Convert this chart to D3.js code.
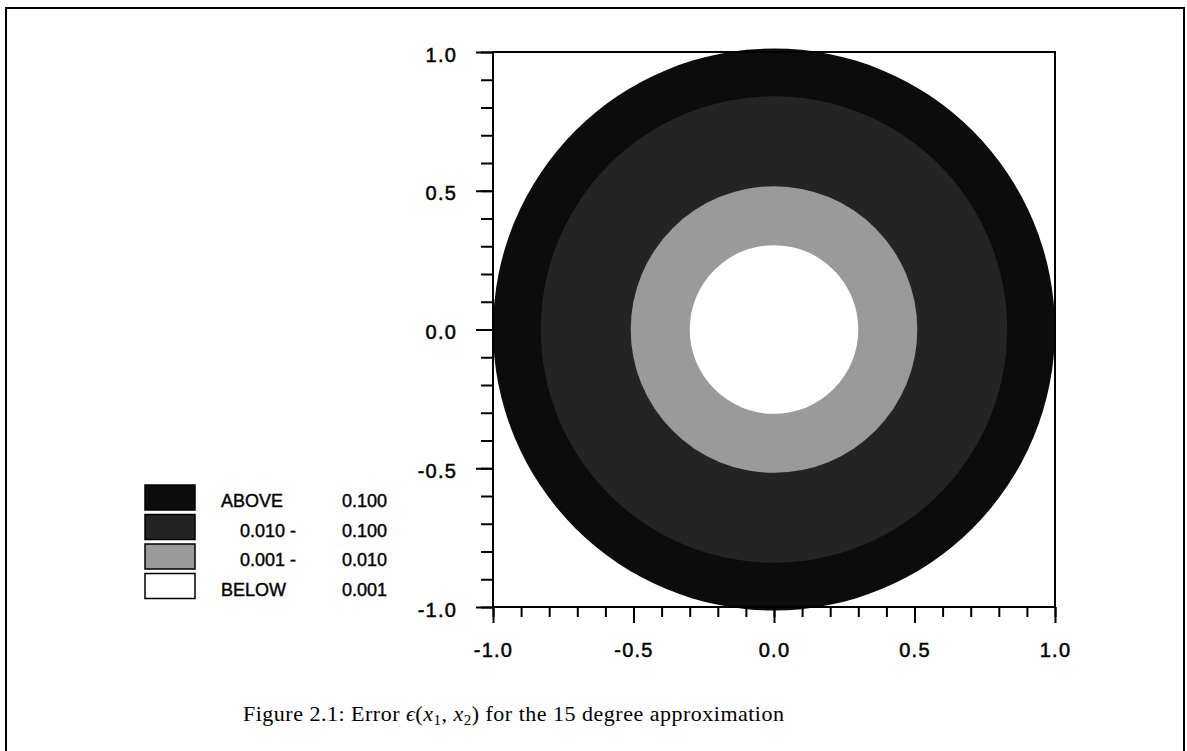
<!DOCTYPE html>
<html>
<head>
<meta charset="utf-8">
<script src="https://cdn.jsdelivr.net/npm/d3@7"></script>
<style>
  html, body { margin: 0; padding: 0; background: #fff; }
  svg { display: block; }
</style>
</head>
<body>
<svg id="chart" width="1187" height="751"></svg>
<script>
// ---------- data ----------
const levelLabels = ["ABOVE", "0.010 -", "0.001 -", "BELOW"];
const levelBounds = ["0.100", "0.100", "0.010", "0.001"];
// outer radius (in x1,x2 units) of each error band, from largest error to smallest
const bandRadius = [1.0, 0.83, 0.51, 0.30];
const bandCenter = [0.0, 0.0];
const xTickValues = [-1.0, -0.5, 0.0, 0.5, 1.0];
const yTickValues = [-1.0, -0.5, 0.0, 0.5, 1.0];
const xTickLabels = ["-1.0", "-0.5", "0.0", "0.5", "1.0"];
const yTickLabels = ["-1.0", "-0.5", "0.0", "0.5", "1.0"];
const captionParts = ["Figure 2.1: Error ", "ϵ", "(", "x", "1", ", ", "x", "2", ") for the 15 degree approximation"];

// ---------- layout ----------
const svg = d3.select("#chart");
const plot = { left: 493, right: 1055, top: 52, bottom: 607 };
const x = d3.scaleLinear().domain([-1, 1]).range([plot.left, plot.right]);
const y = d3.scaleLinear().domain([-1, 1]).range([plot.bottom, plot.top]);

// ---------- fills (halftone shades) ----------
const fills = ["#0c0c0c", "#242424", "#9a9a9a", "#fff"];

// ---------- outer frame ----------
svg.append("path")
  .attr("d", "M6,751 L6,8 L1184,8 L1184,751")
  .attr("fill", "none").attr("stroke", "#000").attr("stroke-width", 2);

// ---------- bands ----------
svg.append("g").selectAll("circle").data(bandRadius).join("circle")
  .attr("cx", x(bandCenter[0])).attr("cy", y(bandCenter[1]))
  .attr("r", d => x(d) - x(0))
  .attr("fill", (d, i) => fills[i]);

// ---------- axes ----------
const minor = d3.range(-10, 11).map(v => v / 10);
const axisG = svg.append("g").attr("stroke", "#000").attr("stroke-width", 2);
axisG.append("path")
  .attr("d", `M${plot.left},${plot.bottom} L${plot.left},${plot.top} L${plot.right},${plot.top} L${plot.right},${plot.bottom} Z`)
  .attr("fill", "none");

const xAxis = d3.axisBottom(x).tickValues(minor).tickSize(10).tickFormat("");
const xAxisMajor = d3.axisBottom(x).tickValues(xTickValues).tickSize(16).tickFormat("");
const yAxis = d3.axisLeft(y).tickValues(minor).tickSize(12).tickFormat("");
const yAxisMajor = d3.axisLeft(y).tickValues(yTickValues).tickSize(17).tickFormat("");
[[xAxis, `translate(0,${plot.bottom})`], [xAxisMajor, `translate(0,${plot.bottom})`],
 [yAxis, `translate(${plot.left},0)`], [yAxisMajor, `translate(${plot.left},0)`]].forEach(([ax, tr]) => {
  const g = svg.append("g").attr("transform", tr).call(ax);
  g.select(".domain").remove();
  g.selectAll("line").attr("stroke", "#000").attr("stroke-width", 2);
});

const tickFont = "'Liberation Sans', Arial, sans-serif";
svg.append("g").selectAll("text").data(xTickValues).join("text")
  .attr("x", d => x(d) + 0.5).attr("y", 657)
  .attr("text-anchor", "middle")
  .attr("font-family", tickFont).attr("font-size", 20).attr("letter-spacing", 1.2)
  .attr("stroke", "#000").attr("stroke-width", 0.5)
  .text((d, i) => xTickLabels[i]);
svg.append("g").selectAll("text").data(yTickValues).join("text")
  .attr("x", 457).attr("y", d => y(d) + 9.5)
  .attr("text-anchor", "end")
  .attr("font-family", tickFont).attr("font-size", 20).attr("letter-spacing", 1.2)
  .attr("stroke", "#000").attr("stroke-width", 0.5)
  .text((d, i) => yTickLabels[i]);

// ---------- legend ----------
const leg = svg.append("g");
const rowY = i => 485 + i * 29.5;
leg.selectAll("rect").data(levelLabels).join("rect")
  .attr("x", 145).attr("y", (d, i) => rowY(i))
  .attr("width", 50).attr("height", 25)
  .attr("fill", (d, i) => fills[i])
  .attr("stroke", "#000").attr("stroke-width", 1.5);
leg.selectAll("text.lab").data(levelLabels).join("text").attr("class", "lab")
  .attr("x", d => /^[0-9]/.test(d) ? 240 : 221)
  .attr("y", (d, i) => rowY(i) + 22)
  .attr("font-family", tickFont).attr("font-size", 18)
  .attr("stroke", "#000").attr("stroke-width", 0.4)
  .text(d => d);
leg.selectAll("text.bnd").data(levelBounds).join("text").attr("class", "bnd")
  .attr("x", 342)
  .attr("y", (d, i) => rowY(i) + 22)
  .attr("font-family", tickFont).attr("font-size", 18)
  .attr("stroke", "#000").attr("stroke-width", 0.4)
  .text(d => d);

// ---------- caption ----------
const cap = svg.append("text")
  .attr("x", 243).attr("y", 721)
  .attr("font-family", "'Liberation Serif', 'DejaVu Serif', serif")
  .attr("font-size", 22).attr("letter-spacing", 0.5);
const styleOf = [null, "italic", null, "italic", "sub", null, "italic", "sub", null];
captionParts.forEach((t, i) => {
  const ts = cap.append("tspan").text(t);
  if (styleOf[i] === "italic") ts.attr("font-style", "italic");
  if (styleOf[i] === "sub") ts.attr("font-size", 15).attr("dy", 4);
  if (i > 0 && styleOf[i - 1] === "sub") ts.attr("dy", -4);
});
</script>
</body>
</html>
